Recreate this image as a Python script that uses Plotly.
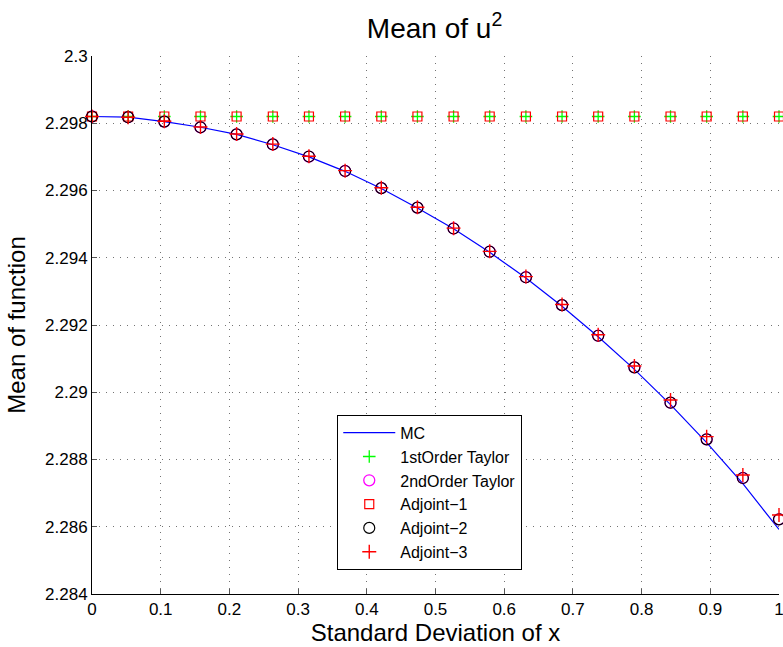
import plotly.graph_objects as go

# ---- data ----
x_vals = [0.0, 0.0526, 0.1053, 0.1579, 0.2105, 0.2632, 0.3158, 0.3684, 0.4211, 0.4737,
          0.5263, 0.5789, 0.6316, 0.6842, 0.7368, 0.7895, 0.8421, 0.8947, 0.9474, 1.0]

mc = [2.29820, 2.29818, 2.29805, 2.29788, 2.29767, 2.29736, 2.29700, 2.29657, 2.29606, 2.29548,
      2.29486, 2.29416, 2.29340, 2.29256, 2.29165, 2.29068, 2.28963, 2.28850, 2.28728, 2.28592]

taylor1 = [2.29820, 2.29820, 2.29820, 2.29820, 2.29820, 2.29820, 2.29820, 2.29820, 2.29820, 2.29820,
           2.29820, 2.29820, 2.29820, 2.29820, 2.29820, 2.29820, 2.29820, 2.29820, 2.29820, 2.29820]

taylor2 = [2.29820, 2.29818, 2.29805, 2.29788, 2.29767, 2.29737, 2.29701, 2.29658, 2.29607, 2.29549,
           2.29487, 2.29418, 2.29342, 2.29259, 2.29168, 2.29074, 2.28969, 2.28860, 2.28745, 2.28622]

adjoint1 = [2.29820, 2.29820, 2.29820, 2.29820, 2.29820, 2.29820, 2.29820, 2.29820, 2.29820, 2.29820,
            2.29820, 2.29820, 2.29820, 2.29820, 2.29820, 2.29820, 2.29820, 2.29820, 2.29820, 2.29820]

adjoint2 = [2.29820, 2.29818, 2.29805, 2.29788, 2.29767, 2.29737, 2.29701, 2.29658, 2.29607, 2.29549,
            2.29487, 2.29418, 2.29342, 2.29259, 2.29168, 2.29074, 2.28969, 2.28860, 2.28745, 2.28622]

adjoint3 = [2.29820, 2.29818, 2.29806, 2.29789, 2.29768, 2.29738, 2.29702, 2.29659, 2.29608, 2.29550,
            2.29488, 2.29419, 2.29344, 2.29261, 2.29171, 2.29078, 2.28977, 2.28868, 2.28754, 2.28635]

x_ticks = [0, 0.1, 0.2, 0.3, 0.4, 0.5, 0.6, 0.7, 0.8, 0.9, 1]
x_tick_text = ["0", "0.1", "0.2", "0.3", "0.4", "0.5", "0.6", "0.7", "0.8", "0.9", "1"]
y_ticks = [2.284, 2.286, 2.288, 2.29, 2.292, 2.294, 2.296, 2.298, 2.3]
y_tick_text = ["2.284", "2.286", "2.288", "2.29", "2.292", "2.294", "2.296", "2.298", "2.3"]

FONT = "Liberation Sans, Arial, Helvetica, sans-serif"

fig = go.Figure()
fig.add_trace(go.Scatter(x=x_vals, y=mc, mode="lines", name="MC",
                         line=dict(color="#0000ff", width=1.2)))
fig.add_trace(go.Scatter(x=x_vals, y=taylor1, mode="markers", name="1stOrder Taylor",
                         marker=dict(symbol="cross-thin-open", size=9, color="#00ff00",
                                     line=dict(width=1.3, color="#00ff00"))))
fig.add_trace(go.Scatter(x=x_vals, y=taylor2, mode="markers", name="2ndOrder Taylor",
                         marker=dict(symbol="circle-open", size=11, color="#ff00ff",
                                     line=dict(width=1.3, color="#ff00ff"))))
fig.add_trace(go.Scatter(x=x_vals, y=adjoint1, mode="markers", name="Adjoint\u22121",
                         marker=dict(symbol="square-open", size=9, color="#ff0000",
                                     line=dict(width=1.2, color="#ff0000"))))
fig.add_trace(go.Scatter(x=x_vals, y=adjoint2, mode="markers", name="Adjoint\u22122",
                         marker=dict(symbol="circle-open", size=11, color="#000000",
                                     line=dict(width=1.2, color="#000000"))))
fig.add_trace(go.Scatter(x=x_vals, y=adjoint3, mode="markers", name="Adjoint\u22123",
                         marker=dict(symbol="cross-thin-open", size=10, color="#ff0000",
                                     line=dict(width=1.4, color="#ff0000"))))

for tr in fig.data:
    tr.cliponaxis = False

axis_common = dict(
    showgrid=True, gridcolor="rgba(0,0,0,0.55)", gridwidth=1, griddash="1px,6px",
    zeroline=False, showline=True, linecolor="black", linewidth=1,
    ticks="inside", ticklen=5, tickcolor="#555555", tickwidth=1,
    tickfont=dict(family=FONT, size=17, color="black"),
    ticklabeloverflow="allow",
)

fig.update_layout(
    width=783, height=647,
    margin=dict(l=92, r=4, t=56, b=53),
    paper_bgcolor="white", plot_bgcolor="white",
    font=dict(family=FONT, color="black"),
    title=dict(text="Mean of u<sup>2</sup>", x=0.555, xanchor="center",
               y=1 - 38 / 647, yanchor="bottom",
               font=dict(family=FONT, size=28, color="black")),
    xaxis=dict(range=[0, 1], tickvals=x_ticks, ticktext=x_tick_text,
               title=dict(text="Standard Deviation of x", standoff=4,
                          font=dict(family=FONT, size=24)),
               automargin=False, **axis_common),
    yaxis=dict(range=[2.284, 2.3], tickvals=y_ticks, ticktext=y_tick_text,
               title=dict(text="Mean of function", standoff=12,
                          font=dict(family=FONT, size=24)),
               automargin=False, **axis_common),
    legend=dict(x=0.357, y=0.045, xanchor="left", yanchor="bottom",
                bgcolor="white", bordercolor="black", borderwidth=1,
                font=dict(family=FONT, size=16, color="black"),
                itemwidth=52, tracegroupgap=0),
    showlegend=True,
)

fig.write_html("out.html")
